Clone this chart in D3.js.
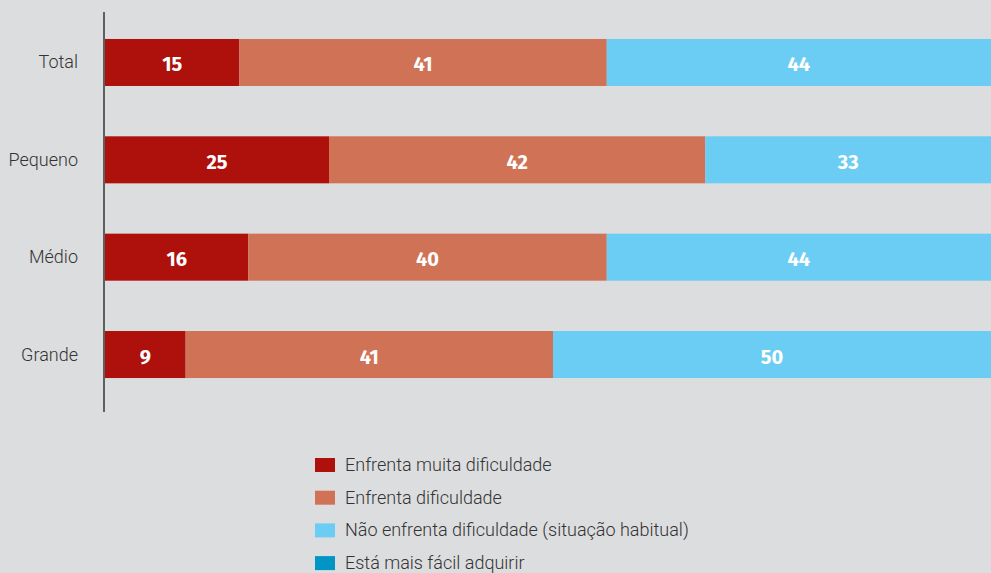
<!doctype html>
<html lang="pt">
<head>
<meta charset="UTF-8">
<title>Dificuldade</title>
<style>
    body { margin: 0; background: #dcdddf; overflow: hidden; }
    .cat { font-family: "Roboto", sans-serif; font-weight: 300; font-size: 18px; fill: #333; }
    .val { font-family: "Fira Sans", "Roboto", sans-serif; font-weight: 700; font-size: 20px; fill: #fff; }
    .leg { font-family: "Roboto", sans-serif; font-weight: 300; font-size: 18px; fill: #333; }
</style>
</head>
<body>
<div class="chart"></div>
<script src="https://d3js.org/d3.v7.min.js"></script>
<script>
const categories = ['Total', 'Pequeno', 'Médio', 'Grande']
const seriesNames = ['Enfrenta muita dificuldade', 'Enfrenta dificuldade',
    'Não enfrenta dificuldade (situação habitual)', 'Está mais fácil adquirir']
const muitaDificuldade = [15, 25, 16, 9]
const dificuldade = [41, 42, 40, 41]
const naoEnfrenta = [44, 33, 44, 50]
const maisFacil = [0, 0, 0, 0]
const colors = ['#ae100c', '#d07256', '#6bcdf4', '#0095c4']

const width = 991, height = 573

const svg = d3.select('.chart')
    .append('svg')
    .attr('width', width)
    .attr('height', height)

svg.append('rect')
    .attr('width', width)
    .attr('height', height)
    .attr('fill', '#dcdddf')

const rows = categories.map((c, i) => ({
    cat: c,
    s0: muitaDificuldade[i], s1: dificuldade[i], s2: naoEnfrenta[i], s3: maisFacil[i]
}))
const stack = d3.stack().keys(['s0', 's1', 's2', 's3'])(rows)

const x = d3.scaleLinear().domain([0, 100]).range([105, 1001])
const y = d3.scaleBand().domain(categories).range([13.8, 403.2])
    .paddingInner(0.517).paddingOuter(0.2585)

// bars
const layers = svg.append('g').selectAll('g')
    .data(stack)
    .join('g')
    .attr('fill', (d, i) => colors[i])

layers.selectAll('rect')
    .data(d => d)
    .join('rect')
    .attr('x', d => x(d[0]))
    .attr('y', d => y(d.data.cat))
    .attr('width', d => x(d[1]) - x(d[0]))
    .attr('height', y.bandwidth())

layers.selectAll('text')
    .data(d => d.filter(p => p[1] - p[0] > 0))
    .join('text')
    .attr('class', 'val')
    .attr('x', d => (x(d[0]) + Math.min(x(d[1]), width)) / 2)
    .attr('y', d => y(d.data.cat) + y.bandwidth() / 2 + 9)
    .attr('text-anchor', 'middle')
    .text(d => d[1] - d[0])

// y axis
svg.append('line')
    .attr('x1', 104).attr('x2', 104)
    .attr('y1', 12).attr('y2', 412)
    .attr('stroke', '#5f5f5f')
    .attr('stroke-width', 2)

svg.append('g').selectAll('text')
    .data(categories)
    .join('text')
    .attr('class', 'cat')
    .attr('x', 78)
    .attr('y', d => y(d) + y.bandwidth() / 2 + 6)
    .attr('text-anchor', 'end')
    .text(d => d)

// legend
const legend = svg.append('g')
    .attr('transform', 'translate(315,458)')
const item = legend.selectAll('g')
    .data(seriesNames)
    .join('g')
    .attr('transform', (d, i) => 'translate(0,' + i * 32.7 + ')')
item.append('rect')
    .attr('width', 20)
    .attr('height', 14)
    .attr('fill', (d, i) => colors[i])
item.append('text')
    .attr('class', 'leg')
    .attr('x', 30)
    .attr('y', 13)
    .text(d => d)
</script>
</body>
</html>
